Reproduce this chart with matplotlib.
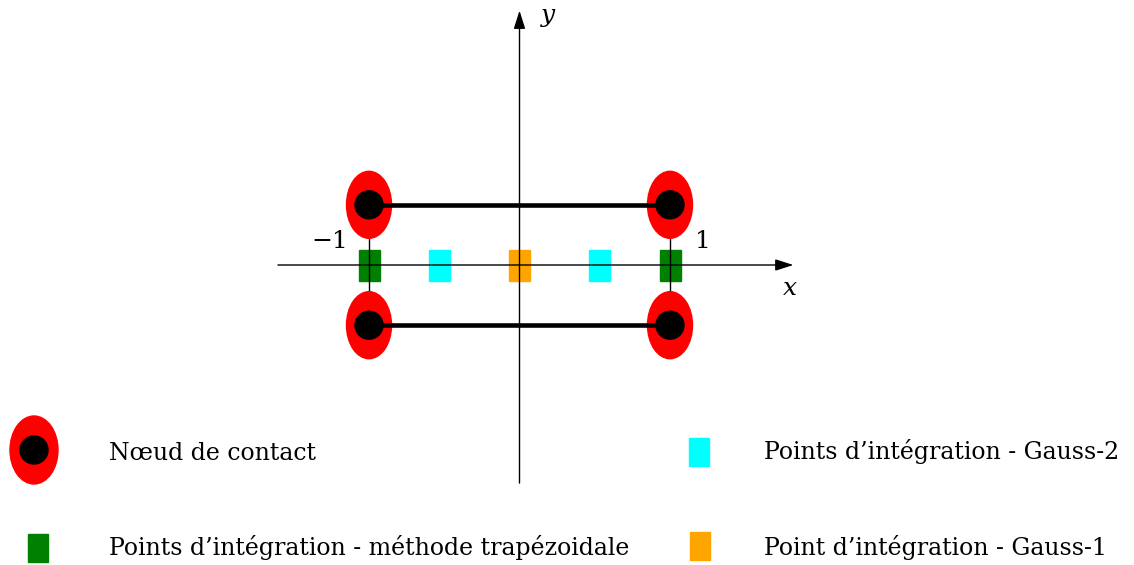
import numpy as np
import matplotlib.pyplot as plt
from matplotlib.patches import Ellipse, Circle, Rectangle

# contact nodes (element corners) and integration points, in element units
node_x = [-1, 1, 1, -1]
node_y = [0.4, 0.4, -0.4, -0.4]
trap_x = [-1, 1]          # trapezoidal rule points
gauss2_x = [-0.53, 0.53]  # Gauss-2 points
gauss1_x = [0]            # Gauss-1 point
tick_x = [-1, 1]
tick_labels = ['\u22121', '1']
legend_labels = ['N\u0153ud de contact',
                 'Points d\u2019int\u00e9gration - m\u00e9thode trap\u00e9zoidale',
                 'Points d\u2019int\u00e9gration - Gauss-2',
                 'Point d\u2019int\u00e9gration - Gauss-1']

plt.rcParams['font.family'] = ['DejaVu Serif']
fig = plt.figure(figsize=(11.34, 5.65), dpi=100)
ax = fig.add_axes([0, 0, 1, 1])
s = 150.5  # px per unit
ax.set_xlim(-519.5 / s, (1134 - 519.5) / s)
ax.set_ylim(-(565 - 265) / s, 265 / s)
ax.axis('off')

# squares
sq_w, sq_h = 21 / s, 31 / s
for xs, c in [(trap_x, 'green'), (gauss2_x, 'cyan'), (gauss1_x, 'orange')]:
    for x in xs:
        ax.add_patch(Rectangle((x - sq_w / 2, -sq_h / 2), sq_w, sq_h, color=c, zorder=1))

# axes with arrows
ax.annotate('', xy=(1.82, 0), xytext=(-1.605, 0),
            arrowprops=dict(arrowstyle='-|>,head_length=1.1,head_width=0.35', lw=1.0, color='black',
                            shrinkA=0, shrinkB=0), zorder=2)
ax.annotate('', xy=(0, 1.69), xytext=(0, -1.449),
            arrowprops=dict(arrowstyle='-|>,head_length=1.1,head_width=0.35', lw=1.0, color='black',
                            shrinkA=0, shrinkB=0), zorder=2)
ax.text(1.8, -0.155, 'x', fontsize=18, style='italic', ha='center', va='center')
ax.text(0.19, 1.655, 'y', fontsize=18, style='italic', ha='center', va='center')

# vertical thin lines at x = -1 and 1
for x in tick_x:
    ax.plot([x, x], [0.2, -0.2], color='black', lw=1.0, zorder=2)
for x, lab in zip(tick_x, tick_labels):
    ax.text(x * 1.22 - (0.04 if x < 0 else 0), 0.155, lab, fontsize=18, ha='center', va='center')

# nodes
ell_w, ell_h, dot_r = 45 / s, 67 / s, 14 / s
for x, y in zip(node_x, node_y):
    ax.add_patch(Ellipse((x, y), ell_w, ell_h, color='red', zorder=3))
    ax.add_patch(Circle((x, y), dot_r, color='black', zorder=5))
for y in [0.4, -0.4]:
    ax.plot([-1, 1], [y, y], color='black', lw=3.3, zorder=4, solid_capstyle='butt')

# legend
def px(x, y):
    return (x - 519.5) / s, (265 - y) / s

cx, cy = px(34, 450)
ax.add_patch(Ellipse((cx, cy), 48 / s, 68 / s, color='red'))
ax.add_patch(Circle((cx, cy), 14 / s, color='black'))
lsq_w, lsq_h = 20 / s, 28 / s
for (x, y), c in [((37.5, 548), 'green'), ((698.5, 452), 'cyan'), ((699.5, 546), 'orange')]:
    X, Y = px(x, y)
    ax.add_patch(Rectangle((X - lsq_w / 2, Y - lsq_h / 2), lsq_w, lsq_h, color=c))
for (x, y), lab in zip([(109, 453), (109, 548), (764, 452), (764, 548)], legend_labels):
    X, Y = px(x, y)
    ax.text(X, Y, lab, fontsize=17, ha='left', va='center')

fig.savefig('out.png', dpi=100)
